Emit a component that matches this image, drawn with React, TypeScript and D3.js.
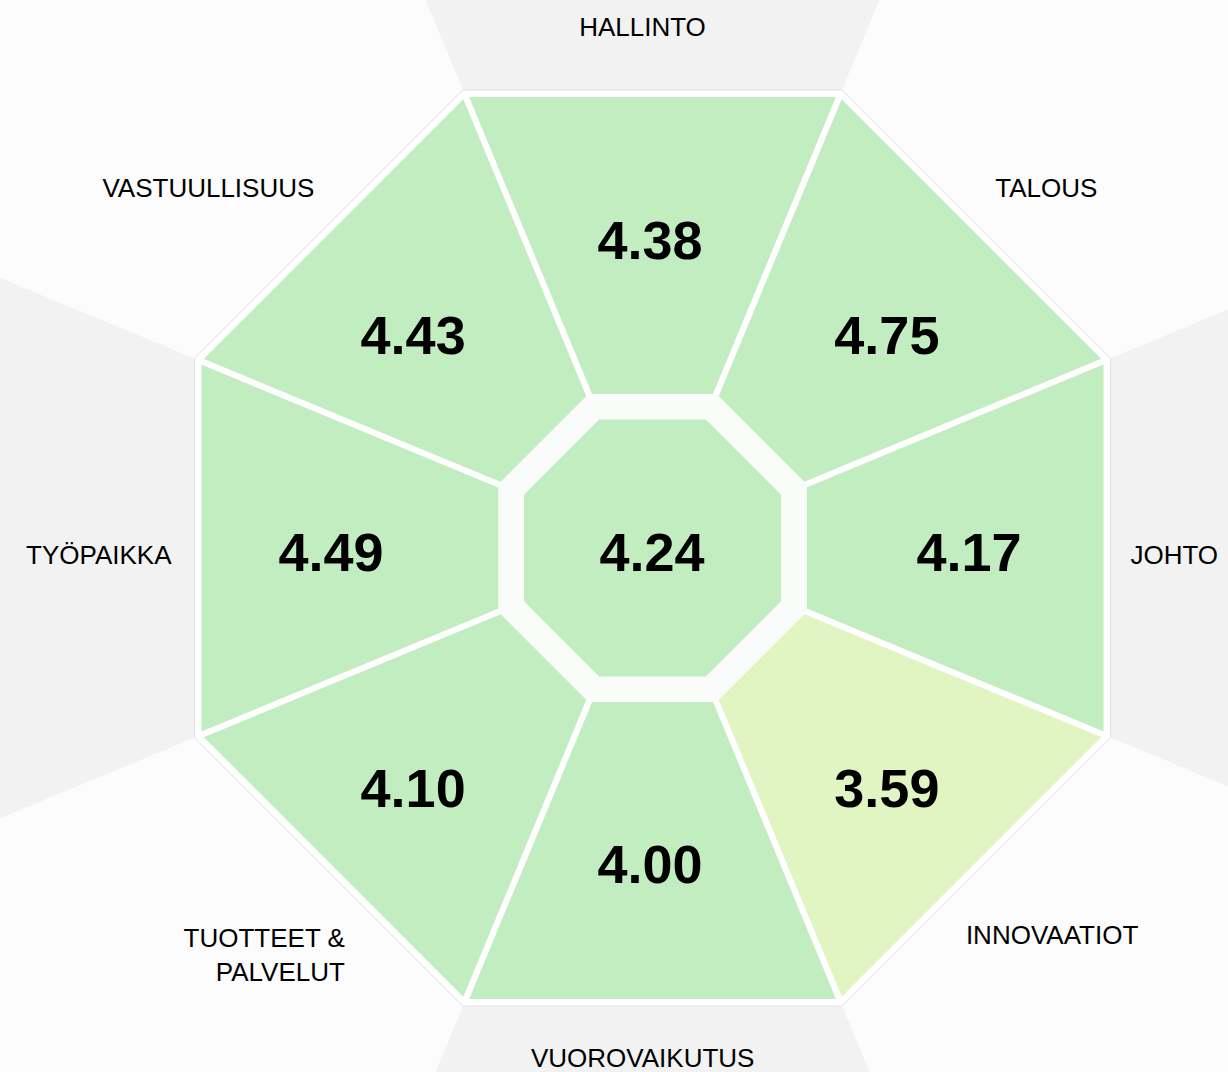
import * as d3 from 'd3'
import React from 'react'

// segments clockwise from the top
const categories = [
  'HALLINTO',
  'TALOUS',
  'JOHTO',
  'INNOVAATIOT',
  'VUOROVAIKUTUS',
  'TUOTTEET & PALVELUT',
  'TYÖPAIKKA',
  'VASTUULLISUUS',
]
const scores = [4.38, 4.75, 4.17, 3.59, 4.0, 4.1, 4.49, 4.43]
const labelLines = [['HALLINTO'], ['TALOUS'], ['JOHTO'], ['INNOVAATIOT'], ['VUOROVAIKUTUS'], ['TUOTTEET &', 'PALVELUT'], ['TYÖPAIKKA'], ['VASTUULLISUUS']]
const colorBreaks = [3.75]
const colorRange = ['#e0f5c2', '#c2edc0']

// layout (not data): where each outer label sits, polar around the centre
const labelLayout = [
  { r: 521, deg: -1.1, anchor: 'middle' },
  { r: 497, deg: 43.6, anchor: 'start' },
  { r: 478, deg: 90.8, anchor: 'start' },
  { r: 498, deg: 141, anchor: 'start' },
  { r: 510, deg: 181.1, anchor: 'middle' },
  { r: 510, deg: 217.1, anchor: 'end' },
  { r: 481, deg: 269.2, anchor: 'end' },
  { r: 494, deg: 316.8, anchor: 'end' },
]

const width = 1228
const height = 1072
const cx = 652.5
const cy = 548
const cos8 = Math.cos(Math.PI / 8)

const apothemOuterLine = 458
const apothemOuter = 454
const apothemInner = 151
const apothemBand = 154
const apothemCore = 128.5

export default function App() {
  const angle = d3
    .scaleBand<string>()
    .domain(categories)
    .range([-Math.PI / 8, 2 * Math.PI - Math.PI / 8])
    .paddingInner(0)
    .paddingOuter(0)

  const color = d3.scaleThreshold<number, string>().domain(colorBreaks).range(colorRange)

  const radial = d3
    .lineRadial<{ a: number; r: number }>()
    .angle(d => d.a)
    .radius(d => d.r)
    .curve(d3.curveLinearClosed)

  const octagon = (apothem: number) =>
    radial(categories.map(c => ({ a: angle(c)!, r: apothem / cos8 })))

  const wedge = d3.arc<any>().innerRadius(0).outerRadius(1600)

  const overall = d3.mean(scores)!

  const font = '"Liberation Sans", Arial, Helvetica, sans-serif'

  // value label position inside each segment
  const valuePos = (i: number) => {
    const mid = angle(categories[i])! + angle.bandwidth() / 2
    const diag = i % 2 === 1
    const rx = diag ? 335 : 319
    const ry = diag ? 320 : 312
    return { x: 650 + rx * Math.sin(mid), y: (diag ? 561 : 552) - ry * Math.cos(mid) }
  }

  return (
    <div style={{ position: 'absolute', left: 0, top: 0 }}>
      <svg width={width} height={height} style={{ display: 'block', background: '#ffffff' }}>
        <g transform={`translate(${cx},${cy})`}>
          {categories.map((c, i) => (
            <path
              key={'w' + c}
              d={wedge({ startAngle: angle(c)!, endAngle: angle(c)! + angle.bandwidth() }) as string}
              fill={i % 2 === 0 ? '#f2f2f2' : '#fcfcfc'}
            />
          ))}

          <path d={octagon(apothemOuterLine)!} fill="#fdfdfd" stroke="#e2e2e2" strokeWidth={1} />

          {categories.map((c, i) => {
            const a0 = angle(c)!
            const a1 = a0 + angle.bandwidth()
            const Ro = apothemOuter / cos8
            const Ri = apothemInner / cos8
            return (
              <path
                key={'s' + c}
                d={
                  radial([
                    { a: a0, r: Ro },
                    { a: a1, r: Ro },
                    { a: a1, r: Ri },
                    { a: a0, r: Ri },
                  ])!
                }
                fill={color(scores[i])}
                stroke="#ffffff"
                strokeWidth={6}
                strokeLinejoin="round"
              />
            )
          })}

          <path d={octagon(apothemBand)!} fill="#f9fcf9" />
          <path d={octagon(apothemCore)!} fill={color(overall)} />
        </g>

        {/* values */}
        <g fontFamily={font} fontWeight="bold" fontSize={54} fill="#000" textAnchor="middle">
          {categories.map((c, i) => {
            const p = valuePos(i)
            return (
              <text key={'v' + c} x={p.x} y={p.y} dy="0.36em">
                {scores[i].toFixed(2)}
              </text>
            )
          })}
          <text x={652} y={552} dy="0.36em">
            {overall.toFixed(2)}
          </text>
        </g>

        {/* outer labels */}
        <g fontFamily={font} fontSize={26} fill="#000">
          {categories.map((c, i) => {
            const l = labelLayout[i]
            const rad = (l.deg * Math.PI) / 180
            const x = cx + l.r * Math.sin(rad)
            const y = cy - l.r * Math.cos(rad)
            const lines = labelLines[i]
            const lh = 34.5
            return (
              <text key={'l' + c} x={x} y={y - ((lines.length - 1) * lh) / 2} textAnchor={l.anchor}>
                {lines.map((t, j) => (
                  <tspan key={t} x={x} dy={j === 0 ? '0.36em' : lh}>
                    {t}
                  </tspan>
                ))}
              </text>
            )
          })}
        </g>
      </svg>
    </div>
  )
}
